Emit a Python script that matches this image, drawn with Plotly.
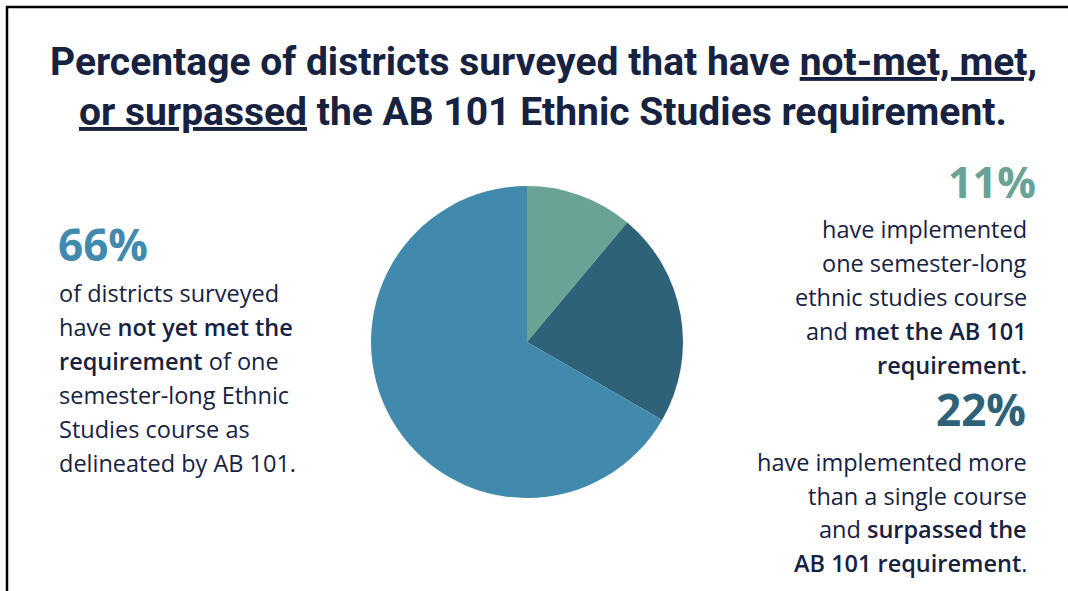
import plotly.graph_objects as go

W, H = 1068, 591

categories = ["Met requirement", "Surpassed requirement", "Not yet met"]
values = [11, 22, 66]
colors = ["#6aa395", "#2e6278", "#428aad"]

title_lines = [
    "Percentage of districts surveyed that have <u>not-met, met,</u>",
    "<u>or surpassed</u> the AB 101 Ethnic Studies requirement.",
]
left_lines = [
    "of districts surveyed",
    "have [not yet met the]",
    "[requirement] of one",
    "semester-long Ethnic",
    "Studies course as",
    "delineated by AB 101.",
]
right1_lines = [
    "have implemented",
    "one semester-long",
    "ethnic studies course",
    "and [met the AB 101]",
    "[requirement.]",
]
right2_lines = [
    "have implemented more",
    "than a single course",
    "and [surpassed the]",
    "[AB 101 requirement].",
]

NAVY = "#16223f"
BODY_FONT = "Open Sans"
TITLE_FONT = "Roboto"
SEMI = '<span style="font-weight:600">'


def rich(t):
    return t.replace("[", SEMI).replace("]", "</span>")


def px(x):
    return x / W


def py(y):
    return 1 - y / H


fig = go.Figure()
fig.add_trace(go.Pie(
    labels=categories, values=values,
    marker=dict(colors=colors, line=dict(width=0)),
    sort=False, direction="clockwise", rotation=0,
    textinfo="none", hoverinfo="label+percent",
    domain=dict(x=[px(371), px(683)], y=[py(498), py(186)]),
    showlegend=False,
))

ann = []
for i, t in enumerate(title_lines):
    ann.append(dict(text="<b>" + t + "</b>", x=px(543), y=py(62 + 50 * i),
                    xanchor="center", yanchor="middle",
                    font=dict(family=TITLE_FONT, size=39, color=NAVY)))

ann.append(dict(text="<b>66%</b>", x=px(56), y=py(244), xanchor="left", yanchor="middle",
                font=dict(family=BODY_FONT, size=44, color=colors[2])))
for i, t in enumerate(left_lines):
    ann.append(dict(text=rich(t), x=px(57), y=py(293 + 34 * i), xanchor="left", yanchor="middle",
                    font=dict(family=BODY_FONT, size=23.5, color=NAVY)))

ann.append(dict(text="<b>11%</b>", x=px(1038), y=py(181), xanchor="right", yanchor="middle",
                font=dict(family=BODY_FONT, size=43, color=colors[0])))
for i, t in enumerate(right1_lines):
    ann.append(dict(text=rich(t), x=px(1029), y=py(229 + 34 * i), xanchor="right", yanchor="middle",
                    font=dict(family=BODY_FONT, size=23.5, color=NAVY)))

ann.append(dict(text="<b>22%</b>", x=px(1028), y=py(409), xanchor="right", yanchor="middle",
                font=dict(family=BODY_FONT, size=44, color=colors[1])))
for i, t in enumerate(right2_lines):
    ann.append(dict(text=rich(t), x=px(1029), y=py(462 + 33.5 * i), xanchor="right", yanchor="middle",
                    font=dict(family=BODY_FONT, size=23.5, color=NAVY)))

for a in ann:
    a.update(xref="paper", yref="paper", showarrow=False)

shapes = [
    dict(type="line", xref="paper", yref="paper", x0=px(6), x1=1, y0=py(7), y1=py(7),
         line=dict(color="black", width=2.5)),
    dict(type="line", xref="paper", yref="paper", x0=px(7), x1=px(7), y0=py(6), y1=0,
         line=dict(color="black", width=2.5)),
]

fig.update_layout(
    width=W, height=H,
    margin=dict(l=0, r=0, t=0, b=0),
    paper_bgcolor="white", plot_bgcolor="white",
    annotations=ann, shapes=shapes,
)

fig.write_html("out.html")
